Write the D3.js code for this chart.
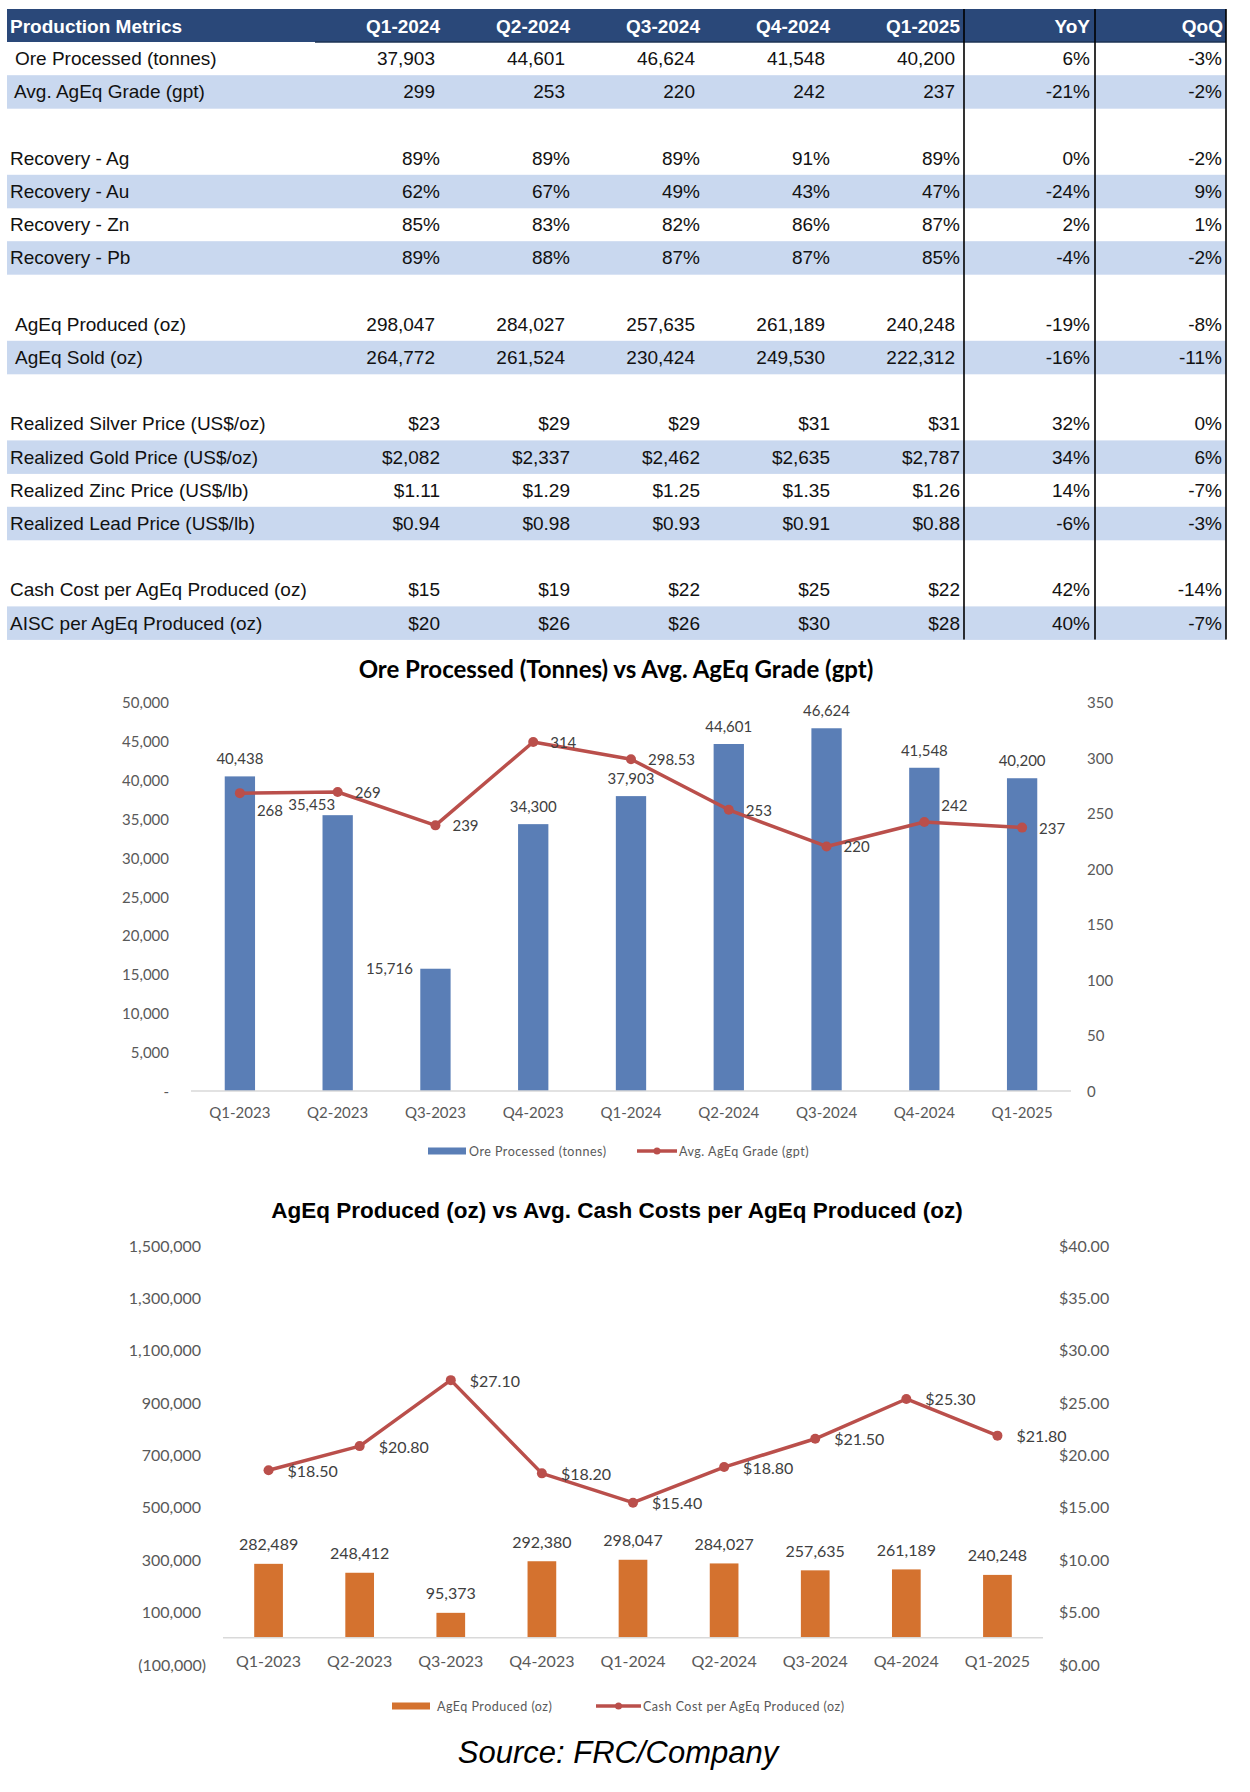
<!DOCTYPE html>
<html><head><meta charset="utf-8">
<script src="https://cdn.jsdelivr.net/npm/d3@7"></script>
<style>body{margin:0;background:#fff;} svg{display:block;}</style>
</head><body><svg id="c" width="1250" height="1792"></svg>
<script>
// ---------------- TABLE DATA ----------------
const tableQuarters = ["Q1-2024","Q2-2024","Q3-2024","Q4-2024","Q1-2025"];
const tableTitle = "Production Metrics";
const changeHeaders = ["YoY","QoQ"];
const tableLabels = ["Ore Processed (tonnes)","Avg. AgEq Grade (gpt)","",
  "Recovery - Ag","Recovery - Au","Recovery - Zn","Recovery - Pb","",
  "AgEq Produced (oz)","AgEq Sold (oz)","",
  "Realized Silver Price (US$/oz)","Realized Gold Price (US$/oz)","Realized Zinc Price (US$/lb)","Realized Lead Price (US$/lb)","",
  "Cash Cost per AgEq Produced (oz)","AISC per AgEq Produced (oz)"];
const oreProcessedTbl = [37903,44601,46624,41548,40200];
const gradeTbl = [299,253,220,242,237];
const recoveryAg = [89,89,89,91,89];
const recoveryAu = [62,67,49,43,47];
const recoveryZn = [85,83,82,86,87];
const recoveryPb = [89,88,87,87,85];
const agEqProducedTbl = [298047,284027,257635,261189,240248];
const agEqSoldTbl = [264772,261524,230424,249530,222312];
const silverPrice = [23,29,29,31,31];
const goldPrice = [2082,2337,2462,2635,2787];
const zincPrice = [1.11,1.29,1.25,1.35,1.26];
const leadPrice = [0.94,0.98,0.93,0.91,0.88];
const cashCostTbl = [15,19,22,25,22];
const aiscTbl = [20,26,26,30,28];
const yoyChange = [6,-21,null,0,-24,2,-4,null,-19,-16,null,32,34,14,-6,null,42,40];
const qoqChange = [-3,-2,null,-2,9,1,-2,null,-8,-11,null,0,6,-7,-3,null,-14,-7];

// ---------------- CHART DATA ----------------
const quarters = ["Q1-2023","Q2-2023","Q3-2023","Q4-2023","Q1-2024","Q2-2024","Q3-2024","Q4-2024","Q1-2025"];
const oreProcessed = [40438,35453,15716,34300,37903,44601,46624,41548,40200];
const agEqGrade = [268,269,239,314,298.53,253,220,242,237];
const agEqProduced = [282489,248412,95373,292380,298047,284027,257635,261189,240248];
const cashCost = [18.50,20.80,27.10,18.20,15.40,18.80,21.50,25.30,21.80];
const chart1Title = "Ore Processed (Tonnes) vs Avg. AgEq Grade (gpt)";
const chart2Title = "AgEq Produced (oz) vs Avg. Cash Costs per AgEq  Produced (oz)";
const legend1 = ["Ore Processed (tonnes)","Avg. AgEq Grade (gpt)"];
const legend2 = ["AgEq Produced (oz)","Cash Cost per AgEq Produced (oz)"];
const sourceText = "Source: FRC/Company";

// ---------------- STYLE ----------------
const C = {header:"#2A4879", band:"#C9D8EF", blue:"#5A7EB6", orange:"#D4722F", red:"#BA4F4B",
           axis:"#D9D9D9", tick:"#595959", label:"#404040"};
const TF = "'Liberation Sans', Arial, sans-serif";
const CF = "Lato, 'Open Sans', sans-serif";

const svg = d3.select("#c");
svg.append("rect").attr("width",1250).attr("height",1792).attr("fill","#fff");

// ---------------- TABLE ----------------
const fInt = d3.format(",");
const fPct = v => v + "%";
const fDol0 = v => "$" + d3.format(",")(v);
const fDol2 = v => "$" + d3.format(".2f")(v);
const rowsData = [
  {v:oreProcessedTbl,f:fInt,ind:15,inset:5},
  {v:gradeTbl,f:fInt,ind:14,inset:5},
  null,
  {v:recoveryAg,f:fPct,ind:10,inset:0},
  {v:recoveryAu,f:fPct,ind:10,inset:0},
  {v:recoveryZn,f:fPct,ind:10,inset:0},
  {v:recoveryPb,f:fPct,ind:10,inset:0},
  null,
  {v:agEqProducedTbl,f:fInt,ind:15,inset:5},
  {v:agEqSoldTbl,f:fInt,ind:15,inset:5},
  null,
  {v:silverPrice,f:fDol0,ind:10,inset:0},
  {v:goldPrice,f:fDol0,ind:10,inset:0},
  {v:zincPrice,f:fDol2,ind:10,inset:0},
  {v:leadPrice,f:fDol2,ind:10,inset:0},
  null,
  {v:cashCostTbl,f:fDol0,ind:10,inset:0},
  {v:aiscTbl,f:fDol0,ind:10,inset:0}
];
const shaded = [1,4,6,9,12,14,17];
const tLeft = 7, tRight = 1226, tTop = 9, rowH = 33.2;
const rowY = d3.scaleLinear().domain([0,1]).range([tTop+33, tTop+33+rowH]);
const colX = d3.scaleLinear().domain([0,1]).range([440,570]);
const chgX = [1090,1222];
const tg = svg.append("g");
tg.append("rect").attr("x",tLeft).attr("y",tTop).attr("width",tRight-tLeft).attr("height",33).attr("fill",C.header);
tg.selectAll("rect.band").data(shaded).join("rect").attr("class","band")
  .attr("x",tLeft).attr("y",d=>rowY(d)).attr("width",tRight-tLeft).attr("height",rowH+0.3).attr("fill",C.band);
const hy = tTop+17;
tg.append("text").attr("x",10).attr("y",hy).attr("dominant-baseline","central")
  .attr("font-family",TF).attr("font-weight","bold").attr("font-size",19).attr("fill","#fff").text(tableTitle);
tg.selectAll("text.hq").data(tableQuarters).join("text").attr("class","hq")
  .attr("x",(d,i)=>colX(i)).attr("y",hy).attr("text-anchor","end").attr("dominant-baseline","central")
  .attr("font-family",TF).attr("font-weight","bold").attr("font-size",19).attr("fill","#fff").text(d=>d);
tg.selectAll("text.hc").data(changeHeaders).join("text").attr("class","hc")
  .attr("x",(d,i)=>chgX[i]+(i?1:0)).attr("y",hy).attr("text-anchor","end").attr("dominant-baseline","central")
  .attr("font-family",TF).attr("font-weight","bold").attr("font-size",19).attr("fill","#fff").text(d=>d);
rowsData.forEach((r,ri)=>{
  if(!r) return;
  const cy = rowY(ri)+rowH/2;
  const g = tg.append("g").attr("font-family",TF).attr("font-size",19).attr("fill","#111");
  g.append("text").attr("x",r.ind).attr("y",cy).attr("dominant-baseline","central").text(tableLabels[ri]);
  g.selectAll("text.v").data(r.v).join("text").attr("class","v")
    .attr("x",(d,i)=>colX(i)-r.inset).attr("y",cy).attr("text-anchor","end").attr("dominant-baseline","central").text(d=>r.f(d));
  g.selectAll("text.c").data([yoyChange[ri],qoqChange[ri]]).join("text").attr("class","c")
    .attr("x",(d,i)=>chgX[i]).attr("y",cy).attr("text-anchor","end").attr("dominant-baseline","central").text(d=>fPct(d));
});
const tBottom = rowY(18);
tg.append("line").attr("x1",315).attr("x2",tRight).attr("y1",tTop+33).attr("y2",tTop+33).attr("stroke","#1d3354").attr("stroke-width",1.5);
tg.selectAll("line.vl").data([964,1095,1226]).join("line").attr("class","vl")
  .attr("x1",d=>d).attr("x2",d=>d).attr("y1",tTop).attr("y2",tBottom).attr("stroke","#000").attr("stroke-width",1.6);

// ---------------- COMBO CHART FUNCTION ----------------
function combo(cfg){
  const g = svg.append("g");
  const fs = cfg.fs;
  const x = d3.scaleBand().domain(quarters).range([cfg.x0,cfg.x1]).paddingInner(cfg.pad).paddingOuter(cfg.pad/2);
  const yL = d3.scaleLinear().domain(cfg.lDom).range(cfg.lRange);
  const yR = d3.scaleLinear().domain(cfg.rDom).range(cfg.rRange);
  g.append("text").attr("x",cfg.titleX).attr("y",cfg.titleY).attr("text-anchor","middle").attr("dominant-baseline","central")
    .attr("font-family",cfg.titleFont).attr("font-weight","bold").attr("font-size",cfg.titleSize).attr("fill","#000").text(cfg.title);
  g.selectAll("text.yl").data(cfg.lTicks).join("text").attr("class","yl")
    .attr("x",d=>d<0?cfg.lLabelX+5:cfg.lLabelX).attr("y",d=>yL(d)).attr("text-anchor","end").attr("dominant-baseline","central")
    .attr("font-family",CF).attr("font-size",fs).attr("fill",C.tick).text(cfg.lFmt);
  g.selectAll("text.yr").data(cfg.rTicks).join("text").attr("class","yr")
    .attr("x",cfg.rLabelX).attr("y",d=>yR(d)).attr("dominant-baseline","central")
    .attr("font-family",CF).attr("font-size",fs).attr("fill",C.tick).text(cfg.rFmt);
  g.selectAll("rect.bar").data(cfg.bars).join("rect").attr("class","bar")
    .attr("x",(d,i)=>x(quarters[i])).attr("width",x.bandwidth())
    .attr("y",d=>yL(d)).attr("height",d=>yL(0)-yL(d)).attr("fill",cfg.barColor);
  g.append("line").attr("x1",cfg.x0).attr("x2",cfg.x1).attr("y1",yL(0)).attr("y2",yL(0)).attr("stroke",C.axis).attr("stroke-width",1.5);
  g.selectAll("text.xl").data(quarters).join("text").attr("class","xl")
    .attr("x",d=>x(d)+x.bandwidth()/2).attr("y",yL(0)+cfg.xLabelDy).attr("text-anchor","middle").attr("dominant-baseline","central")
    .attr("font-family",CF).attr("font-size",fs).attr("fill",C.tick).text(d=>d);
  g.selectAll("text.bl").data(cfg.bars).join("text").attr("class","bl")
    .attr("x",(d,i)=>x(quarters[i])+x.bandwidth()/2+((cfg.barLabelOff[i]||{}).dx||0))
    .attr("y",(d,i)=>yL(d)+((cfg.barLabelOff[i]||{}).dy ?? cfg.barLabelDy))
    .attr("text-anchor","middle").attr("dominant-baseline","central")
    .attr("font-family",CF).attr("font-size",fs).attr("fill",C.label).text(d=>d3.format(",")(d));
  const cx = i => x(quarters[i])+x.bandwidth()/2;
  const line = d3.line().x((d,i)=>cx(i)).y(d=>yR(d));
  g.append("path").datum(cfg.line).attr("d",line).attr("fill","none").attr("stroke",C.red).attr("stroke-width",3.5).attr("stroke-linejoin","round");
  g.selectAll("circle.pt").data(cfg.line).join("circle").attr("class","pt")
    .attr("cx",(d,i)=>cx(i)).attr("cy",d=>yR(d)).attr("r",5).attr("fill",C.red);
  g.selectAll("text.ll").data(cfg.line).join("text").attr("class","ll")
    .attr("x",(d,i)=>cx(i)+cfg.lineLabelDx+((cfg.lineLabelOff[i]||{}).dx||0))
    .attr("y",(d,i)=>yR(d)+((cfg.lineLabelOff[i]||{}).dy||0))
    .attr("dominant-baseline","central")
    .attr("font-family",CF).attr("font-size",fs).attr("fill",C.label).text(cfg.lineFmt);
  const L = cfg.legend;
  g.append("rect").attr("x",L.bx).attr("y",L.y-3.5).attr("width",38).attr("height",7).attr("fill",cfg.barColor);
  g.append("text").attr("x",L.btx).attr("y",L.y).attr("dominant-baseline","central")
    .attr("font-family",CF).attr("font-size",12.5).attr("letter-spacing",0.5).attr("fill",C.tick).text(cfg.legendText[0]);
  g.append("line").attr("x1",L.lx).attr("x2",L.lx+L.lw).attr("y1",L.y).attr("y2",L.y).attr("stroke",C.red).attr("stroke-width",3.5);
  g.append("circle").attr("cx",L.lx+L.lw/2).attr("cy",L.y).attr("r",3.5).attr("fill",C.red);
  g.append("text").attr("x",L.lx+L.lw+2).attr("y",L.y).attr("dominant-baseline","central")
    .attr("font-family",CF).attr("font-size",12.5).attr("letter-spacing",0.5).attr("fill",C.tick).text(cfg.legendText[1]);
}

combo({
  x0:191, x1:1071, pad:0.69, fs:15,
  lDom:[0,50000], lRange:[1091,702], rDom:[0,350], rRange:[1091,702],
  lTicks:d3.range(0,50001,5000), lFmt:d=>d===0?"-":d3.format(",")(d), lLabelX:169,
  rTicks:d3.range(0,351,50), rFmt:d=>d, rLabelX:1087,
  bars:oreProcessed, barColor:C.blue, line:agEqGrade,
  lineFmt:d=>Number.isInteger(d)?d:d.toFixed(2),
  barLabelDy:-18, barLabelOff:{1:{dx:-26,dy:-11},2:{dx:-46,dy:-1}},
  lineLabelDx:17, lineLabelOff:{0:{dy:17},7:{dy:-17}},
  xLabelDy:21,
  title:chart1Title, titleX:616, titleY:668, titleFont:CF, titleSize:24,
  legend:{bx:428,btx:469,y:1151,lx:637,lw:40}, legendText:legend1
});
combo({
  x0:223, x1:1043, pad:0.685, fs:16,
  lDom:[-100000,1500000], lRange:[1664,1245], rDom:[0,40], rRange:[1664,1245],
  lTicks:d3.range(-100000,1500001,200000), lFmt:d=>d<0?"("+d3.format(",")(-d)+")":d3.format(",")(d), lLabelX:201,
  rTicks:d3.range(0,41,5), rFmt:d=>"$"+d3.format(".2f")(d), rLabelX:1059,
  bars:agEqProduced, barColor:C.orange, line:cashCost,
  lineFmt:d=>"$"+d3.format(".2f")(d),
  barLabelDy:-20, barLabelOff:{},
  lineLabelDx:19, lineLabelOff:{},
  xLabelDy:23,
  title:chart2Title, titleX:617, titleY:1210, titleFont:TF, titleSize:22.5,
  legend:{bx:392,btx:437,y:1706,lx:596,lw:45}, legendText:legend2
});

svg.append("text").attr("x",618).attr("y",1752).attr("text-anchor","middle").attr("dominant-baseline","central")
  .attr("font-family",TF).attr("font-style","italic").attr("font-size",31).attr("fill","#000").text(sourceText);
</script></body></html>
